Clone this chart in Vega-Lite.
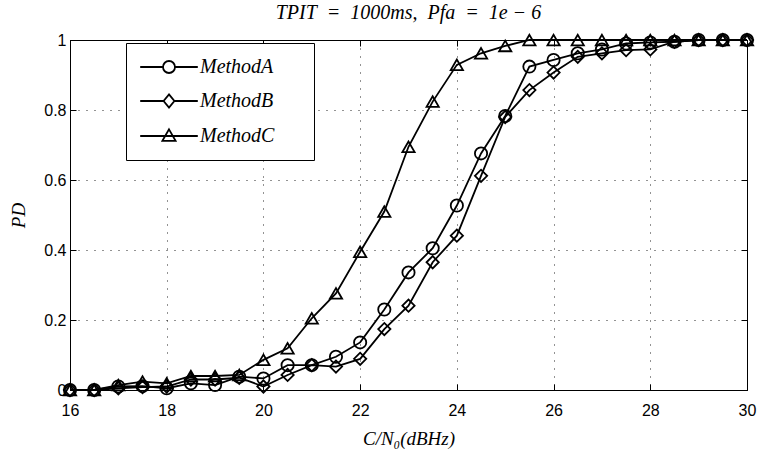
{
 "$schema": "https://vega.github.io/schema/vega-lite/v6.json",
 "width": 677, "height": 350,
 "autosize": {"type": "none"},
 "padding": {"left": 70, "top": 40, "right": 12, "bottom": 66},
 "background": "white",
 "title": {"text": "TPIT\u2002=\u20021000ms,\u2002Pfa\u2002=\u20021e − 6", "font": "Liberation Serif", "fontStyle": "italic", "fontWeight": "normal", "fontSize": 20, "offset": 7, "color": "black", "anchor": "middle"},
 "config": {"view": {"stroke": "black", "strokeWidth": 1}},
 "datasets": {
  "d": [
   {"x":16,"p":0,"method":"MethodA"},{"x":16.5,"p":0,"method":"MethodA"},{"x":17,"p":0.01,"method":"MethodA"},{"x":17.5,"p":0.011,"method":"MethodA"},{"x":18,"p":0.005,"method":"MethodA"},{"x":18.5,"p":0.019,"method":"MethodA"},{"x":19,"p":0.014,"method":"MethodA"},{"x":19.5,"p":0.038,"method":"MethodA"},{"x":20,"p":0.033,"method":"MethodA"},{"x":20.5,"p":0.071,"method":"MethodA"},{"x":21,"p":0.071,"method":"MethodA"},{"x":21.5,"p":0.095,"method":"MethodA"},{"x":22,"p":0.136,"method":"MethodA"},{"x":22.5,"p":0.23,"method":"MethodA"},{"x":23,"p":0.336,"method":"MethodA"},{"x":23.5,"p":0.405,"method":"MethodA"},{"x":24,"p":0.527,"method":"MethodA"},{"x":24.5,"p":0.676,"method":"MethodA"},{"x":25,"p":0.783,"method":"MethodA"},{"x":25.5,"p":0.924,"method":"MethodA"},{"x":26,"p":0.943,"method":"MethodA"},{"x":26.5,"p":0.962,"method":"MethodA"},{"x":27,"p":0.973,"method":"MethodA"},{"x":27.5,"p":0.99,"method":"MethodA"},{"x":28,"p":0.993,"method":"MethodA"},{"x":28.5,"p":0.995,"method":"MethodA"},{"x":29,"p":1,"method":"MethodA"},{"x":29.5,"p":1,"method":"MethodA"},{"x":30,"p":1,"method":"MethodA"},
   {"x":16,"p":0,"method":"MethodB"},{"x":16.5,"p":0,"method":"MethodB"},{"x":17,"p":0.005,"method":"MethodB"},{"x":17.5,"p":0.008,"method":"MethodB"},{"x":18,"p":0.01,"method":"MethodB"},{"x":18.5,"p":0.03,"method":"MethodB"},{"x":19,"p":0.03,"method":"MethodB"},{"x":19.5,"p":0.035,"method":"MethodB"},{"x":20,"p":0.01,"method":"MethodB"},{"x":20.5,"p":0.043,"method":"MethodB"},{"x":21,"p":0.071,"method":"MethodB"},{"x":21.5,"p":0.067,"method":"MethodB"},{"x":22,"p":0.089,"method":"MethodB"},{"x":22.5,"p":0.174,"method":"MethodB"},{"x":23,"p":0.241,"method":"MethodB"},{"x":23.5,"p":0.365,"method":"MethodB"},{"x":24,"p":0.441,"method":"MethodB"},{"x":24.5,"p":0.612,"method":"MethodB"},{"x":25,"p":0.78,"method":"MethodB"},{"x":25.5,"p":0.857,"method":"MethodB"},{"x":26,"p":0.907,"method":"MethodB"},{"x":26.5,"p":0.952,"method":"MethodB"},{"x":27,"p":0.962,"method":"MethodB"},{"x":27.5,"p":0.971,"method":"MethodB"},{"x":28,"p":0.973,"method":"MethodB"},{"x":28.5,"p":0.995,"method":"MethodB"},{"x":29,"p":1,"method":"MethodB"},{"x":29.5,"p":1,"method":"MethodB"},{"x":30,"p":1,"method":"MethodB"},
   {"x":16,"p":0,"method":"MethodC"},{"x":16.5,"p":0,"method":"MethodC"},{"x":17,"p":0.014,"method":"MethodC"},{"x":17.5,"p":0.024,"method":"MethodC"},{"x":18,"p":0.019,"method":"MethodC"},{"x":18.5,"p":0.04,"method":"MethodC"},{"x":19,"p":0.04,"method":"MethodC"},{"x":19.5,"p":0.043,"method":"MethodC"},{"x":20,"p":0.086,"method":"MethodC"},{"x":20.5,"p":0.119,"method":"MethodC"},{"x":21,"p":0.205,"method":"MethodC"},{"x":21.5,"p":0.276,"method":"MethodC"},{"x":22,"p":0.395,"method":"MethodC"},{"x":22.5,"p":0.51,"method":"MethodC"},{"x":23,"p":0.695,"method":"MethodC"},{"x":23.5,"p":0.824,"method":"MethodC"},{"x":24,"p":0.929,"method":"MethodC"},{"x":24.5,"p":0.962,"method":"MethodC"},{"x":25,"p":0.983,"method":"MethodC"},{"x":25.5,"p":1,"method":"MethodC"},{"x":26,"p":1,"method":"MethodC"},{"x":26.5,"p":1,"method":"MethodC"},{"x":27,"p":1,"method":"MethodC"},{"x":27.5,"p":1,"method":"MethodC"},{"x":28,"p":1,"method":"MethodC"},{"x":28.5,"p":1,"method":"MethodC"},{"x":29,"p":1,"method":"MethodC"},{"x":29.5,"p":1,"method":"MethodC"},{"x":30,"p":1,"method":"MethodC"}
  ]
 },
 "data": {"name": "d"},
 "layer": [
  {
   "mark": {"type": "line", "color": "black", "strokeWidth": 1.8},
   "encoding": {
    "x": {"field": "x", "type": "quantitative", "scale": {"domain": [16, 30], "nice": false, "zero": false},
     "axis": {"orient": "bottom", "values": [16,18,20,22,24,26,28,30], "labelFlush": false, "labelOverlap": false, "grid": true, "gridDash": [1, 7], "gridColor": "black", "gridOpacity": 0.85, "tickSize": -6, "tickColor": "black", "domainColor": "black", "labelFont": "Liberation Sans", "labelFontSize": 16, "labelColor": "black", "labelPadding": 18, "title": "C/N₀(dBHz)", "titleFont": "Liberation Serif", "titleFontStyle": "italic", "titleFontWeight": "normal", "titleFontSize": 19, "titleColor": "black", "titlePadding": 11}},
    "y": {"field": "p", "type": "quantitative", "scale": {"domain": [0, 1], "nice": false},
     "axis": {"orient": "left", "values": [0,0.2,0.4,0.6,0.8,1], "format": "~g", "labelFlush": false, "labelOverlap": false, "grid": true, "gridDash": [1, 7], "gridColor": "black", "gridOpacity": 0.85, "tickSize": -6, "tickColor": "black", "domainColor": "black", "labelFont": "Liberation Sans", "labelFontSize": 16, "labelColor": "black", "labelPadding": 10, "title": "PD", "titleFont": "Liberation Serif", "titleFontStyle": "italic", "titleFontWeight": "normal", "titleFontSize": 19, "titleColor": "black", "titlePadding": 15}},
    "detail": {"field": "method"}
   }
  },
  {
   "mark": {"type": "point", "filled": false, "color": "black", "strokeWidth": 1.8, "size": 150, "opacity": 1},
   "encoding": {
    "x": {"field": "x", "type": "quantitative",
     "axis": {"orient": "top", "values": [16,18,20,22,24,26,28,30], "labels": false, "grid": false, "tickSize": -6, "tickColor": "black", "domainColor": "black", "title": null}},
    "y": {"field": "p", "type": "quantitative",
     "axis": {"orient": "right", "values": [0,0.2,0.4,0.6,0.8,1], "labels": false, "grid": false, "tickSize": -6, "tickColor": "black", "domainColor": "black", "title": null}},
    "shape": {"field": "method", "type": "nominal", "scale": {"domain": ["MethodA", "MethodB", "MethodC"], "range": ["circle", "diamond", "triangle-up"]}, "legend": null}
   }
  },
  {
   "transform": [{"filter": "datum.x > 100"}],
   "mark": {"type": "point", "filled": false, "color": "black", "strokeWidth": 1.8, "opacity": 1},
   "encoding": {
    "x": {"field": "x", "type": "quantitative", "axis": null},
    "y": {"field": "p", "type": "quantitative", "axis": null},
    "shape": {"field": "method", "type": "nominal", "scale": {"domain": ["MethodA", "MethodB", "MethodC"], "range": ["M-4.8,0H-1M1,0H4.8M1,0A1,1 0 1,1 -1,0A1,1 0 1,1 1,0Z", "M-4.8,0H-0.9M0.9,0H4.8M0,-1.1L0.9,0L0,1.1L-0.9,0Z", "M-4.8,0H4.8M0,-1.1L1.1,0.8L-1.1,0.8Z"]},
     "legend": {"orient": "none", "legendX": 56, "legendY": 3, "title": null, "strokeColor": "black", "fillColor": "white", "padding": 14, "symbolSize": 144, "symbolStrokeWidth": 1.8, "symbolStrokeColor": "black", "symbolOpacity": 1, "symbolOffset": 19, "labelOffset": 21, "rowPadding": 13, "labelFont": "Liberation Serif", "labelFontStyle": "italic", "labelFontSize": 20, "labelColor": "black", "labelExpr": "datum.label + '\u00a0\u00a0\u00a0\u00a0\u00a0\u200b'"}}
   }
  }
 ],
 "resolve": {"axis": {"x": "independent", "y": "independent"}, "scale": {"shape": "independent"}}
}
